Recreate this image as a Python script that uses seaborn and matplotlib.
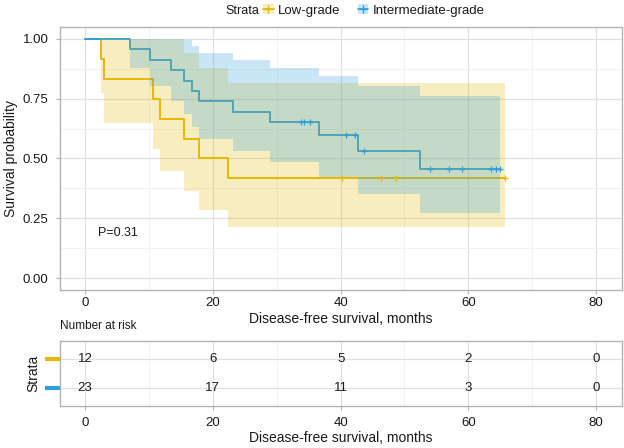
import matplotlib
matplotlib.use("Agg")
import matplotlib.pyplot as plt
import seaborn as sns
import pandas as pd
from matplotlib.lines import Line2D
from matplotlib.patches import Patch
from matplotlib.legend_handler import HandlerTuple

# ---------------- data ----------------
groups = ["Low-grade", "Intermediate-grade"]
colors = ["#E7B800", "#2E9FDF"]

low_time = [0, 2.45, 2.97, 10.7, 11.7, 15.5, 17.8, 22.4, 65.7]
low_surv = [1.0, 0.917, 0.833, 0.750, 0.667, 0.583, 0.500, 0.417, 0.417]
low_upper = [1.0, 1.0, 1.0, 1.0, 0.995, 0.941, 0.880, 0.814, 0.814]
low_lower = [1.0, 0.773, 0.647, 0.541, 0.447, 0.362, 0.284, 0.213, 0.213]
low_cens_time = [40.2, 46.3, 48.7, 65.7]
low_cens_surv = [0.417, 0.417, 0.417, 0.417]

int_time = [0, 7.1, 10.2, 13.5, 15.5, 16.8, 17.9, 23.2, 28.9, 36.6, 42.7, 52.5, 65.0]
int_surv = [1.0, 0.957, 0.913, 0.870, 0.826, 0.783, 0.739, 0.696, 0.652, 0.598, 0.531, 0.455, 0.455]
int_upper = [1.0, 1.0, 1.0, 1.0, 0.996, 0.971, 0.942, 0.912, 0.879, 0.843, 0.804, 0.761, 0.761]
int_lower = [1.0, 0.877, 0.805, 0.742, 0.685, 0.631, 0.580, 0.531, 0.484, 0.424, 0.351, 0.273, 0.273]
int_cens_time = [33.8, 34.2, 35.2, 40.9, 42.2, 43.6, 54.0, 57.0, 59.0, 63.6, 64.4, 65.0]
int_cens_surv = [0.652, 0.652, 0.652, 0.598, 0.598, 0.531, 0.455, 0.455, 0.455, 0.455, 0.455, 0.455]

risk_times = [0, 20, 40, 60, 80]
risk_low = [12, 6, 5, 2, 0]
risk_int = [23, 17, 11, 3, 0]

x_ticks = [0, 20, 40, 60, 80]
y_ticks = [0.0, 0.25, 0.50, 0.75, 1.00]
y_ticklabels = ["0.00", "0.25", "0.50", "0.75", "1.00"]
pval_text = "P=0.31"

# ---------------- style ----------------
sns.set_theme(style="white")
plt.rcParams["font.family"] = ["Liberation Sans", "DejaVu Sans"]
TXT = "#1a1a1a"
GRID = "#E0E0E0"
GRID_MINOR = "#EFEFEF"
BORDER = "#B3B3B3"
ALPHA = 0.25

W, H = 624, 448
fig = plt.figure(figsize=(W / 100, H / 100), dpi=100)
ax = fig.add_axes([59.5 / W, 1 - 290 / H, (621.7 - 59.5) / W, (290 - 27) / H])
axt = fig.add_axes([59.5 / W, 1 - 406 / H, (621.7 - 59.5) / W, (406 - 341) / H])


def style_axes(a):
    for s in a.spines.values():
        s.set_color(BORDER)
        s.set_linewidth(1.0)
    a.tick_params(axis="both", which="major", left=True, bottom=True, direction="out",
                  length=3, width=0.8, color=BORDER, labelsize=9.5, labelcolor=TXT, pad=2)
    a.tick_params(axis="both", which="minor", length=0)
    a.grid(True, which="major", color=GRID, linewidth=0.9)
    a.grid(True, which="minor", color=GRID_MINOR, linewidth=0.6)
    a.set_axisbelow(True)


# ---------------- KM plot ----------------
series = [
    (low_time, low_surv, low_upper, low_lower, low_cens_time, low_cens_surv),
    (int_time, int_surv, int_upper, int_lower, int_cens_time, int_cens_surv),
]

for (t, s, up, lo, ct, cs), c, g in zip(series, colors, groups):
    df = pd.DataFrame({"time": t, "surv": s})
    sns.lineplot(data=df, x="time", y="surv", ax=ax, color=c, linewidth=1.4,
                 drawstyle="steps-post", estimator=None, sort=False, zorder=2)

for (t, s, up, lo, ct, cs), c in zip(series, colors):
    ax.fill_between(t, lo, up, step="post", color=c, alpha=ALPHA, linewidth=0, zorder=3)

for (t, s, up, lo, ct, cs), c in zip(series, colors):
    dfc = pd.DataFrame({"time": ct, "surv": cs})
    sns.scatterplot(data=dfc, x="time", y="surv", ax=ax, marker="+", color=c,
                    s=24, linewidth=0.9, zorder=4, legend=False)

ax.set_xlim(-4, 84)
ax.set_ylim(-0.05, 1.05)
ax.set_xticks(x_ticks)
ax.set_xticks([10, 30, 50, 70], minor=True)
ax.set_yticks(y_ticks)
ax.set_yticklabels(y_ticklabels)
ax.set_yticks([0.125, 0.375, 0.625, 0.875], minor=True)
style_axes(ax)
ax.tick_params(axis="y", which="major", pad=5)
ax.set_xlabel("Disease-free survival, months", fontsize=10, color=TXT, labelpad=2)
ax.set_ylabel("Survival probability", fontsize=10, color=TXT, labelpad=3)
ax.text(2.1, 0.19, pval_text, fontsize=9, color=TXT, ha="left", va="center")

# legend
handles = [
    (Patch(facecolor=c, alpha=ALPHA, edgecolor="none"),
     Line2D([], [], color=c, linewidth=1.2, marker="+", markersize=6, markeredgewidth=1.0))
    for c in colors
]
fig.text(225 / W, 1 - 10.5 / H, "Strata", fontsize=9, color=TXT, ha="left", va="center")
fig.legend(handles, groups, handler_map={tuple: HandlerTuple(ndivide=1, pad=0)},
           loc="center left", bbox_to_anchor=(263 / W, 1 - 10.5 / H), ncol=2,
           frameon=False, fontsize=9.5, handlelength=0.8, handleheight=0.8,
           handletextpad=0.35, columnspacing=1.3, borderpad=0, borderaxespad=0,
           labelcolor=TXT)

# ---------------- risk table ----------------
rows = [2, 1]
for vals, r in zip([risk_low, risk_int], rows):
    for tx, v in zip(risk_times, vals):
        axt.text(tx, r, str(v), ha="center", va="center", fontsize=9.5, color=TXT)

axt.set_xlim(-4, 84)
axt.set_ylim(0.4, 2.6)
axt.set_xticks(x_ticks)
axt.set_xticks([10, 30, 50, 70], minor=True)
axt.set_yticks(rows)
axt.set_yticklabels(["", ""])
style_axes(axt)
axt.tick_params(axis="x", which="major", pad=5)
axt.tick_params(axis="y", which="major", length=11, width=3, pad=0)
for tick, c in zip(axt.yaxis.get_major_ticks(), colors):
    tick.tick1line.set_color(c)
    tick.tick1line.set_markeredgecolor(c)
axt.set_xlabel("Disease-free survival, months", fontsize=10, color=TXT, labelpad=1)
axt.set_ylabel("Strata", fontsize=10, color=TXT, labelpad=3)
fig.text(60 / W, 1 - 326 / H, "Number at risk", fontsize=8.5, color=TXT, ha="left", va="center")

fig.savefig("out.png", dpi=100)
